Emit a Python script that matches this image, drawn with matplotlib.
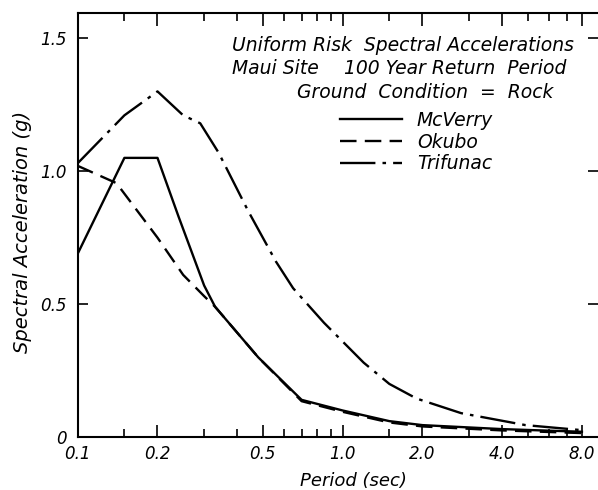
import numpy as np
import matplotlib
matplotlib.use('Agg')
import matplotlib.pyplot as plt
from matplotlib.ticker import FixedLocator, NullFormatter

# periods (sec) and spectral accelerations (g)
mcverry_t = [0.1, 0.15, 0.2, 0.24, 0.3, 0.33, 0.48, 0.7, 1.0, 1.5, 2.0, 4.0, 8.0]
mcverry_a = [0.69, 1.05, 1.05, 0.83, 0.57, 0.49, 0.30, 0.14, 0.10, 0.06, 0.045, 0.03, 0.02]

okubo_t = [0.1, 0.14, 0.2, 0.25, 0.3, 0.33, 0.48, 0.7, 1.0, 1.5, 2.0, 4.0, 8.0]
okubo_a = [1.02, 0.955, 0.75, 0.61, 0.53, 0.49, 0.30, 0.135, 0.095, 0.055, 0.04, 0.025, 0.015]

trifunac_t = [0.1, 0.15, 0.2, 0.25, 0.29, 0.34, 0.44, 0.56, 0.65, 0.85, 1.2, 1.5, 1.9, 2.8, 4.9, 8.0]
trifunac_a = [1.03, 1.21, 1.30, 1.21, 1.18, 1.07, 0.85, 0.66, 0.56, 0.43, 0.28, 0.20, 0.145, 0.09, 0.045, 0.026]

major_x = [0.1, 0.2, 0.5, 1.0, 2.0, 4.0, 8.0]
major_x_labels = ['0.1', '0.2', '0.5', '1.0', '2.0', '4.0', '8.0']
minor_x = [0.15, 0.3, 0.4, 0.6, 0.7, 0.8, 0.9, 1.5, 3.0, 5.0, 6.0, 7.0]
y_ticks = [0, 0.5, 1.0, 1.5]
y_labels = ['0', '0.5', '1.0', '1.5']

plt.rcParams['font.family'] = 'DejaVu Sans'
plt.rcParams['font.style'] = 'italic'

fig = plt.figure(figsize=(5.98, 4.9), dpi=100)
ax = fig.add_axes([0.13, 0.108, 0.87, 0.865])

lw = 1.7
ax.plot(mcverry_t, mcverry_a, color='black', lw=lw, label='McVerry')
ax.plot(okubo_t, okubo_a, color='black', lw=lw, dashes=(7, 3.5), label='Okubo')
ax.plot(trifunac_t, trifunac_a, color='black', lw=lw, dashes=(15, 3, 1.5, 3), label='Trifunac')

ax.set_xscale('log')
ax.set_xlim(0.1, 9.2)
ax.set_ylim(0, 1.594)

ax.xaxis.set_major_locator(FixedLocator(major_x))
ax.set_xticklabels(major_x_labels)
ax.xaxis.set_minor_locator(FixedLocator(minor_x))
ax.xaxis.set_minor_formatter(NullFormatter())
ax.set_yticks(y_ticks)
ax.set_yticklabels(y_labels)

ax.tick_params(axis='both', which='both', direction='in', top=True, right=True,
               labelsize=12, width=1.2)
ax.tick_params(axis='x', which='major', length=9, pad=6)
ax.tick_params(axis='x', which='minor', length=6)
ax.tick_params(axis='y', which='major', length=7, pad=8)
ax.spines['right'].set_visible(False)
for s in ['left', 'bottom', 'top']:
    ax.spines[s].set_linewidth(1.5)

ax.set_xlabel('Period (sec)', fontsize=13)
ax.xaxis.set_label_coords(0.529, -0.083)
ax.set_ylabel('Spectral Acceleration (g)', fontsize=14)
ax.yaxis.set_label_coords(-0.088, 0.483)

ax.text(0.296, 0.925, 'Uniform Risk  Spectral Accelerations', transform=ax.transAxes,
        fontsize=13.5, ha='left', va='center')
ax.text(0.296, 0.870, 'Maui Site', transform=ax.transAxes,
        fontsize=13.5, ha='left', va='center')
ax.text(0.94, 0.870, '100 Year Return  Period', transform=ax.transAxes,
        fontsize=13.5, ha='right', va='center')
ax.text(0.421, 0.814, 'Ground  Condition  =  Rock', transform=ax.transAxes,
        fontsize=13.5, ha='left', va='center')

ax.legend(loc='upper left', bbox_to_anchor=(0.504, 0.77), frameon=False,
          fontsize=13.5, handlelength=3.3, handletextpad=0.8, labelspacing=0.15,
          borderpad=0, borderaxespad=0)

fig.savefig('out.png', dpi=100)
